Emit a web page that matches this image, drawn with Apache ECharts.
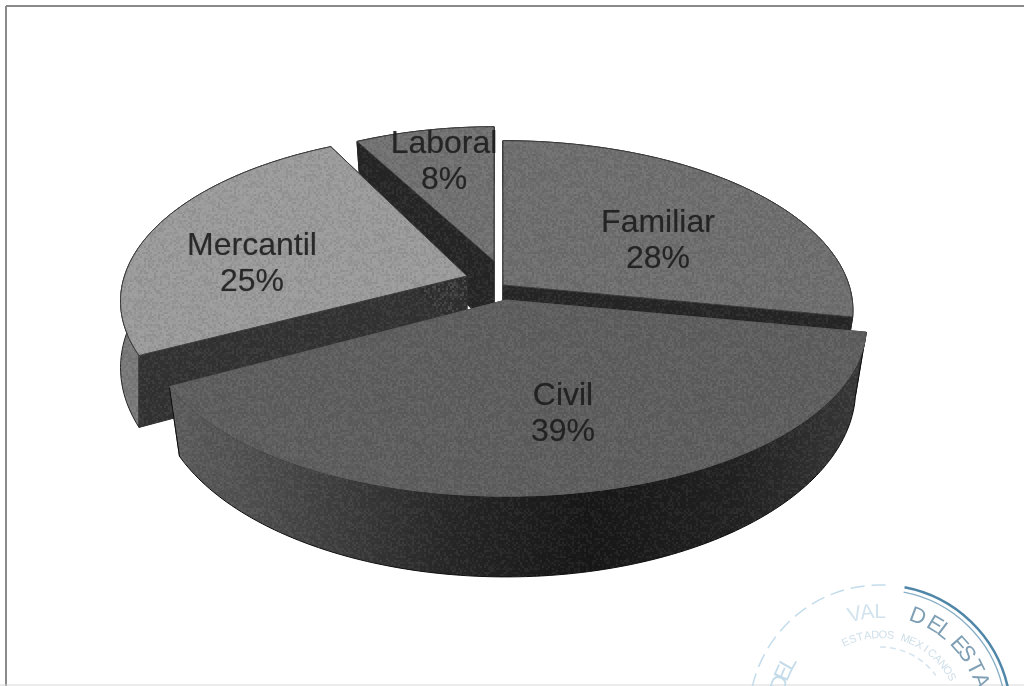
<!DOCTYPE html>
<html><head><meta charset="utf-8">
<style>html,body{margin:0;padding:0;background:#fff}#c{width:1024px;height:686px}</style>
<script src="https://cdn.jsdelivr.net/npm/echarts@6/dist/echarts.min.js"></script>
</head><body><div id="c"></div>
<script>
const categories = ['Familiar','Civil','Mercantil','Laboral'];
const values = [28,39,25,8];
// layout of the exploded 3D pie (pixels in the hidden 1024x686 axes)
const apexX = [503,506,467,494];
const apexY = [285,300,276,261];
const sliceScaleX = [1,1.03,0.99,0.93];
const sliceScaleY = [1,1.005,0.99,0.93];
const sliceTurnDeg = [0,0,2,0];
const sliceDepth = [61,61,64,70];
const bottomRx = [0.97,0.97,1,0.97];
const labelX = [658,563,252,444];
const labelY = [241,414,264,162];
const topColors = ['#6f6f6f','#5e5e5e','#9b9b9b','#717171'];
const faceColors = ['#262626','#333333','#333333','#262626'];
const drawOrder = [3,2,0,1];

const RX=346, RY=166, P=0.15, BOTTOM_RY=1.10;
const total = values.reduce((a,b)=>a+b,0);
const starts=[]; { let s=0; values.forEach(v=>{starts.push(s); s+=v/total*Math.PI*2;}); }

function rimPoint(i,th,bottom){
  const u=Math.sin(th), v=-Math.cos(th), w=1-P*v;
  const rx=RX*sliceScaleX[i]*(bottom?bottomRx[i]:1), ry=RY*sliceScaleY[i]*(bottom?BOTTOM_RY:1);
  return [apexX[i]+rx*u/w, apexY[i]+(bottom?sliceDepth[i]:0)+ry*v/w];
}
function rim(i,a,b,bottom){
  const n=Math.max(2,Math.ceil((b-a)/0.02)),pts=[];
  for(let j=0;j<=n;j++) pts.push(rimPoint(i,a+(b-a)*j/n,bottom));
  return pts;
}
const rimFill=[
  '#5a5a5a',
  {type:'linear',x:0,y:0,x2:1,y2:0,colorStops:[
    {offset:0,color:'#5e5e5e'},{offset:.12,color:'#505050'},{offset:.4,color:'#272727'},
    {offset:.6,color:'#171717'},{offset:.82,color:'#222222'},{offset:1,color:'#3a3a3a'}]},
  '#7a7a7a','#444444'
];
// scanner grain: a fixed tile laid over the surfaces
function grainTile(){
  const n=160, cv=document.createElement('canvas'); cv.width=cv.height=n;
  const g=cv.getContext('2d'); let s=12345;
  for(let y=0;y<n;y+=2) for(let x=0;x<n;x+=2){
    s=(s*1103515245+12345)&0x7fffffff;
    const r=(s>>16)%100/100;
    g.fillStyle=r<.5?'rgba(0,0,0,'+(.5-r)*.16+')':'rgba(255,255,255,'+(r-.5)*.13+')';
    g.fillRect(x,y,2,2);
  }
  return cv;
}
const grain={image:grainTile(),repeat:'repeat'};
function renderItem(params,api){
  const i=api.value(0), t=sliceTurnDeg[i]*Math.PI/180, a=starts[i]+t, b=a+api.value(1)/total*Math.PI*2;
  const c=p=>api.coord(p);
  const apexT=[apexX[i],apexY[i]], apexB=[apexX[i],apexY[i]+sliceDepth[i]];
  const poly=(pts,fill,stroke)=>({type:'polygon',shape:{points:pts.map(c)},
    style:{fill,stroke:stroke||fill,lineWidth:1}});
  const over=pts=>({type:'polygon',silent:true,shape:{points:pts.map(c)},style:{fill:grain,stroke:null}});
  const rimPts=rim(i,a,b,false).concat(rim(i,a,b,true).reverse());
  const topPts=[apexT].concat(rim(i,a,b,false));
  const faceA=[apexT,rimPoint(i,a,false),rimPoint(i,a,true),apexB];
  const faceB=[apexT,rimPoint(i,b,false),rimPoint(i,b,true),apexB];
  const faces=[poly(faceA,faceColors[i]),poly(faceB,faceColors[i]),over(faceA),over(faceB)];
  const rims=[poly(rimPts,rimFill[i],i===1?'#0c0c0c':'#222'),over(rimPts)];
  const back=-Math.cos((a+b)/2)<0;
  const children=(back?rims.concat(faces):faces.concat(rims))
    .concat([poly(topPts,topColors[i],i===1?topColors[i]:'#3c3c3c'),over(topPts)]);
  return {type:'group',children};
}
// stamp partly visible in the lower right corner
function stamp(){
  const cx=880,cy=716,els=[];
  const arc=(r,s,e,color,w,dash)=>els.push({type:'arc',silent:true,
    shape:{cx,cy,r,startAngle:s,endAngle:e},style:{fill:null,stroke:color,lineWidth:w,lineDash:dash}});
  arc(131,-Math.PI*0.98,-Math.PI*0.47,'#c3dceb',1.5,[14,7]);
  arc(131,-Math.PI*0.44,-Math.PI*0.07,'#4f86a8',2.5);
  arc(126,-Math.PI*0.44,-Math.PI*0.07,'#86aec6',1.3);
  const txt=(s,deg,r,size,color)=>{const t=deg*Math.PI/180;
    els.push({type:'text',silent:true,x:cx+r*Math.sin(t),y:cy-r*Math.cos(t),rotation:-t,
      style:{text:s,font:size+'px "Liberation Sans"',fill:color,align:'center',verticalAlign:'middle'}});};
  [['D',-72],['E',-66],['L',-60]].forEach(p=>txt(p[0],p[1],105,22,'#c4dbe9'));
  [['V',-14],['A',-7],['L',0]].forEach(p=>txt(p[0],p[1],104,21,'#d2e3ee'));
  [['D',20.7],['E',31],['L',37.4],['E',48],['S',54.3],['T',63],['A',70.7]].forEach(p=>txt(p[0],p[1],106,22,'#7f9fb5'));
  'ESTADOS MEXICANOS'.split('').forEach((ch,k)=>txt(ch,-25+k*5.4,81,11,'#cfdfe9'));
  arc(69,-Math.PI*0.5,-Math.PI*0.2,'#d5e4ee',1.5,[6,4]);
  return els;
}
const chart=echarts.init(document.getElementById('c'),null,{renderer:'canvas'});
const frameLine=(x1,y1,x2,y2,color,w)=>({type:'line',silent:true,shape:{x1,y1,x2,y2},style:{stroke:color,lineWidth:w}});
chart.setOption({
  animation:false,
  backgroundColor:'#fff',
  grid:{left:0,right:0,top:0,bottom:0},
  xAxis:{type:'value',min:0,max:1024,show:false},
  yAxis:{type:'value',min:0,max:686,inverse:true,show:false},
  graphic:[frameLine(6,6,1024,6,'#8a8a8a',2),frameLine(6,6,6,686,'#8a8a8a',2),
    frameLine(0,685,1024,685,'#d8d8d8',1)].concat(stamp()),
  series:[
    {type:'custom',coordinateSystem:'cartesian2d',clip:false,renderItem,z:2,
     encode:{x:2,y:3},
     data:drawOrder.map(i=>[i,values[i],labelX[i],labelY[i]])},
    {type:'scatter',symbolSize:0,z:5,silent:true,
     data:categories.map((n,i)=>({value:[labelX[i],labelY[i]],name:n})),
     label:{show:true,position:'inside',formatter:p=>p.name+'\n'+values[p.dataIndex]+'%',
       fontFamily:'"Liberation Sans"',fontSize:32,lineHeight:36,color:'#1c1c1c',align:'center',verticalAlign:'middle',
       textShadowColor:'rgba(20,20,20,.6)',textShadowBlur:1}}
  ]
});
</script></body></html>
